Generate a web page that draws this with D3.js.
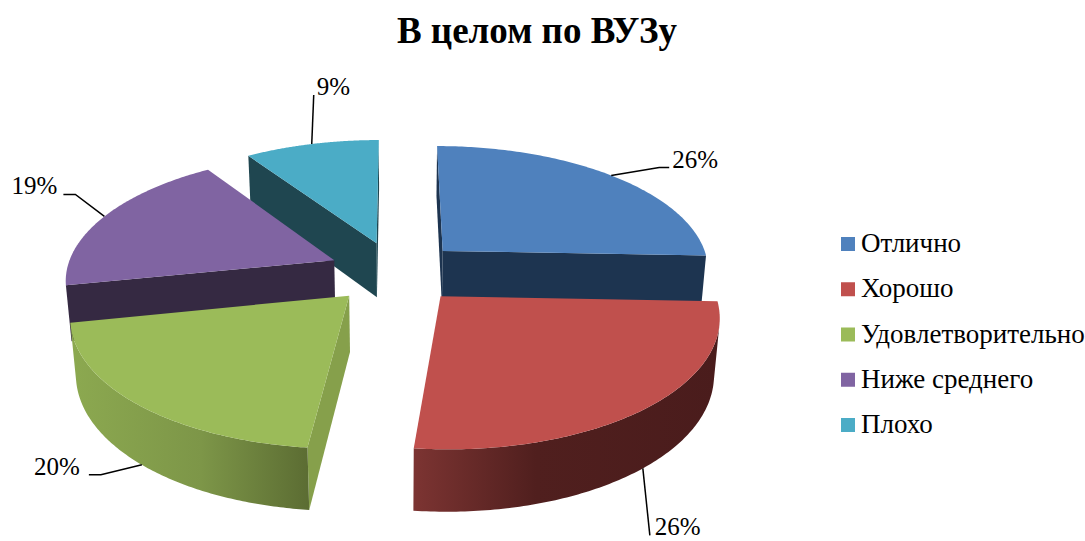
<!DOCTYPE html>
<html>
<head>
<meta charset="utf-8">
<script src="https://cdn.jsdelivr.net/npm/d3@7"></script>
<style>
  body { margin: 0; background: #fff; }
  text { font-family: "Liberation Serif", serif; fill: #000; }
</style>
</head>
<body>
<svg id="chart" width="1085" height="541"></svg>
<script>
const title = "В целом по ВУЗу";
const categories = ["Отлично", "Хорошо", "Удовлетворительно", "Ниже среднего", "Плохо"];
const values = [25.6, 26.1, 20.1, 18.8, 9.4];

const topColors = ["#4f81bd", "#c0504d", "#9bbb59", "#8064a2", "#4bacc6"];
const wallColors = ["#1d3450", "#4e1f1e", "#86a04b", "#352942", "#1f4650"];
const rimStops = [
    ["#1d3450", "#1d3450", "#1d3450"],
    ["#7c3432", "#501f1e", "#4a1c1c"],
    ["#8ca950", "#7d9648", "#5c6d33"],
    ["#352942", "#352942", "#352942"],
    ["#1f4650", "#1f4650", "#1f4650"]
];
// back slices first
const drawOrder = [4, 3, 0, 2, 1];
// leader line: elbow and text offsets from the rim point, in px
const leaders = [
    {elbow: [[48, -8], [58, -8]], text: [61, -7], anchor: "start", onBottom: false},
    {elbow: [[7, 67]], text: [12, 67], anchor: "start", onBottom: true},
    {elbow: [[-41, 10], [-53, 10]], text: [-62, 10], anchor: "end", onBottom: true},
    {elbow: [[-29, -22], [-41, -22]], text: [-47, -22], anchor: "end", onBottom: false},
    {elbow: [[2, -49]], text: [5, -49], anchor: "start", onBottom: false}
];

const width = 1085, height = 541;
const svg = d3.select("#chart");
const defs = svg.append("defs");

// camera
const cx = 395.5, cy = 272;
const tilt = 27.7 * Math.PI / 180;
const dist = 6.42, focal = 1722;
const depth = 0.237, explode = 0.25;

function project(X, Y, Z) {
    const yv = Y * Math.cos(tilt) - Z * Math.sin(tilt);
    const zv = Y * Math.sin(tilt) + Z * Math.cos(tilt);
    const s = focal / (dist - zv);
    return [cx + X * s, cy - yv * s];
}

function signedArea(pts) {
    return d3.sum(pts, (p, i) => {
        const q = pts[(i + 1) % pts.length];
        return p[0] * q[1] - q[0] * p[1];
    });
}

const pie = d3.pie().sort(null).value(d => d);
const arcs = pie(values);
const line = d3.line();
const closed = pts => line(pts) + "Z";

const slicesG = svg.append("g");

const rimPoint = (a, t, Y) => {
    const mid = (a.startAngle + a.endAngle) / 2;
    const ox = explode * Math.sin(mid), oz = -explode * Math.cos(mid);
    return project(ox + Math.sin(t), Y, oz - Math.cos(t));
};
const apexPoint = (a, Y) => {
    const mid = (a.startAngle + a.endAngle) / 2;
    return project(explode * Math.sin(mid), Y, -explode * Math.cos(mid));
};

drawOrder.forEach(i => {
    const a = arcs[i];
    const g = slicesG.append("g");
    const steps = d3.range(0, 121).map(k => a.startAngle + (a.endAngle - a.startAngle) * k / 120);
    const topRim = steps.map(t => rimPoint(a, t, 0));
    const botRim = steps.map(t => rimPoint(a, t, -depth));

    // straight walls, only when they face the camera
    const startWall = [apexPoint(a, 0), topRim[0], botRim[0], apexPoint(a, -depth)];
    const endWall = [topRim[120], apexPoint(a, 0), apexPoint(a, -depth), botRim[120]];
    [startWall, endWall].forEach(w => {
        if (signedArea(w) < 0) {
            g.append("path").attr("d", closed(w)).attr("fill", wallColors[i]);
        }
    });

    // outer wall, visible part of the rim
    const visible = d3.range(0, 120).filter(k =>
        signedArea([topRim[k], topRim[k + 1], botRim[k + 1], botRim[k]]) < 0);
    if (visible.length) {
        const first = visible[0], last = visible[visible.length - 1] + 1;
        const upper = topRim.slice(first, last + 1);
        const lower = botRim.slice(first, last + 1).reverse();
        const xs = d3.extent(upper, p => p[0]);
        const grad = defs.append("linearGradient")
            .attr("id", "rim" + i)
            .attr("gradientUnits", "userSpaceOnUse")
            .attr("x1", xs[0]).attr("x2", xs[1])
            .attr("y1", 0).attr("y2", 0);
        const offs = i === 1 ? [0, 0.4, 1] : [0, 0.55, 1];
        rimStops[i].forEach((c, k) => {
            grad.append("stop").attr("offset", offs[k]).attr("stop-color", c);
        });
        g.append("path").attr("d", closed(upper.concat(lower))).attr("fill", `url(#rim${i})`);
    }

    // top face
    g.append("path")
        .attr("d", closed([apexPoint(a, 0)].concat(topRim)))
        .attr("fill", topColors[i]);
});

// leader lines and labels
arcs.forEach((a, i) => {
    const mid = (a.startAngle + a.endAngle) / 2;
    const l = leaders[i];
    const p = rimPoint(a, mid, l.onBottom ? -depth : 0);
    const pts = [p].concat(l.elbow.map(e => [p[0] + e[0], p[1] + e[1]]));
    svg.append("path")
        .attr("d", line(pts))
        .attr("fill", "none")
        .attr("stroke", "#000")
        .attr("stroke-width", 1.5);
    svg.append("text")
        .attr("x", p[0] + l.text[0])
        .attr("y", p[1] + l.text[1])
        .attr("text-anchor", l.anchor)
        .attr("font-size", 25)
        .text(Math.round(values[i]) + "%");
});

svg.append("text")
    .attr("x", 537)
    .attr("y", 43)
    .attr("text-anchor", "middle")
    .attr("font-size", 37)
    .attr("font-weight", "bold")
    .text(title);

// legend
const legendY = d3.scalePoint().domain(categories).range([244, 425]);
const legend = svg.append("g");
categories.forEach((c, i) => {
    legend.append("rect")
        .attr("x", 841)
        .attr("y", legendY(c) - 7)
        .attr("width", 14)
        .attr("height", 14)
        .attr("fill", topColors[i]);
    legend.append("text")
        .attr("x", 861)
        .attr("y", legendY(c) + 8)
        .attr("font-size", 27)
        .text(c);
});
</script>
</body>
</html>
